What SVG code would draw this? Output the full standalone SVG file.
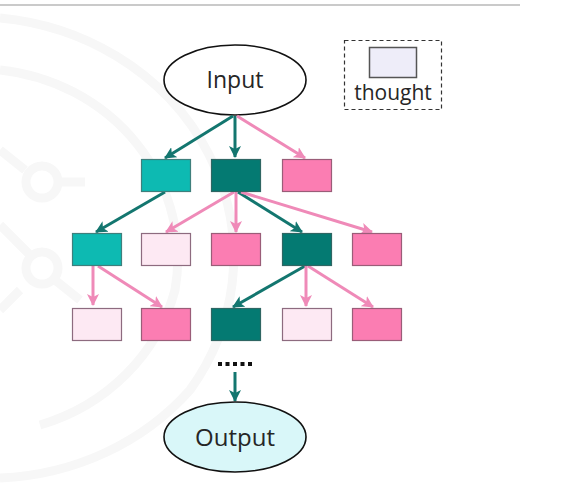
<svg xmlns="http://www.w3.org/2000/svg" width="580" height="500" viewBox="0 0 580 500">
  <defs>
    <marker id="ah-dark" viewBox="0 0 12 12" refX="11" refY="6" markerWidth="12" markerHeight="12" markerUnits="userSpaceOnUse" orient="auto">
      <path d="M0,0 L12,6 L0,12 L3,6 z" fill="#13766f"/>
    </marker>
    <marker id="ah-pink" viewBox="0 0 12 12" refX="11" refY="6" markerWidth="12" markerHeight="12" markerUnits="userSpaceOnUse" orient="auto">
      <path d="M0,0 L12,6 L0,12 L3,6 z" fill="#ef8ab8"/>
    </marker>
    <style>
      .wm { fill: none; stroke: #f7f7f7; stroke-width: 9; }
      .box { stroke-width: 1.2; }
      .lt { fill: #0dbab2; stroke: #3f7f7c; }
      .dt { fill: #047a72; stroke: #2f6663; }
      .pk { fill: #fb7db2; stroke: #9a5d78; }
      .lp { fill: #fde9f3; stroke: #8d6b7f; }
      .cd { stroke: #13766f; stroke-width: 3; fill: none; marker-end: url(#ah-dark); }
      .cp { stroke: #ef8ab8; stroke-width: 3; fill: none; marker-end: url(#ah-pink); }
      .lbl { font-family: "Open Sans", "Noto Sans", "Liberation Sans", sans-serif; fill: #262626; text-anchor: middle; }
    </style>
  </defs>

  <rect x="0" y="0" width="580" height="500" fill="#ffffff"/>

  <!-- faint background watermark -->
  <g id="watermark">
    <path class="wm" d="M0,18 A260,240 0 0 1 190,390 A260,240 0 0 1 0,478"/>
    <path class="wm" d="M0,70 A200,190 0 0 1 175,290 A200,190 0 0 1 40,425"/>
    <circle class="wm" cx="42" cy="182" r="16"/>
    <circle class="wm" cx="42" cy="268" r="16"/>
    <path class="wm" d="M0,150 L25,170 M0,225 L30,255 M58,182 L85,182 M55,280 L80,300 M0,310 L20,290"/>
  </g>

  <line x1="0" y1="5" x2="520" y2="5" stroke="#b9b9b9" stroke-width="1.5"/>

  <g id="legend">
    <rect x="344.5" y="40.5" width="97" height="69" fill="none" stroke="#333" stroke-width="1.2" stroke-dasharray="4,3"/>
    <rect x="369.5" y="47.5" width="47" height="30" fill="#eeedf9" stroke="#555" stroke-width="1.5"/>
    <text class="lbl" x="393" y="100" font-size="21">thought</text>
  </g>

  <g id="input">
    <ellipse cx="235" cy="80" rx="71" ry="35" fill="#ffffff" stroke="#111" stroke-width="1.6"/>
    <text class="lbl" x="235" y="88" font-size="23">Input</text>
  </g>

  <g id="connectors">
    <line class="cd" x1="233" y1="116" x2="165" y2="158"/>
    <line class="cd" x1="235" y1="116" x2="235" y2="157"/>
    <line class="cp" x1="237" y1="116" x2="305" y2="158"/>
    <line class="cd" x1="165" y1="192" x2="96" y2="232"/>
    <line class="cp" x1="234" y1="192" x2="166" y2="232"/>
    <line class="cp" x1="236" y1="192" x2="236" y2="232"/>
    <line class="cd" x1="238" y1="192" x2="302" y2="232"/>
    <line class="cp" x1="241" y1="192" x2="372" y2="232"/>
    <line class="cp" x1="93" y1="266" x2="93" y2="305"/>
    <line class="cp" x1="98" y1="266" x2="162" y2="307"/>
    <line class="cd" x1="305" y1="266" x2="233" y2="307"/>
    <line class="cp" x1="306" y1="266" x2="306" y2="306"/>
    <line class="cp" x1="308" y1="266" x2="373" y2="307"/>
    <line x1="218" y1="364" x2="253" y2="364" stroke="#111" stroke-width="4" stroke-dasharray="4,3.5"/>
    <line class="cd" x1="235" y1="372" x2="235" y2="401"/>
  </g>

  <g id="row1">
    <rect id="n1a" class="box lt" x="141.5" y="159.5" width="49" height="32"/>
    <rect id="n1b" class="box dt" x="211.5" y="159.5" width="49" height="32"/>
    <rect id="n1c" class="box pk" x="282.5" y="159.5" width="49" height="32"/>
  </g>
  <g id="row2">
    <rect id="n2a" class="box lt" x="72.5" y="233.5" width="49" height="32"/>
    <rect id="n2b" class="box lp" x="141.5" y="233.5" width="49" height="32"/>
    <rect id="n2c" class="box pk" x="211.5" y="233.5" width="49" height="32"/>
    <rect id="n2d" class="box dt" x="282.5" y="233.5" width="49" height="32"/>
    <rect id="n2e" class="box pk" x="352.5" y="233.5" width="49" height="32"/>
  </g>
  <g id="row3">
    <rect id="n3a" class="box lp" x="72.5" y="308.5" width="49" height="32"/>
    <rect id="n3b" class="box pk" x="141.5" y="308.5" width="49" height="32"/>
    <rect id="n3c" class="box dt" x="211.5" y="308.5" width="49" height="32"/>
    <rect id="n3d" class="box lp" x="282.5" y="308.5" width="49" height="32"/>
    <rect id="n3e" class="box pk" x="352.5" y="308.5" width="49" height="32"/>
  </g>

  <g id="output">
    <ellipse cx="235" cy="437" rx="71" ry="35" fill="#d9f7f9" stroke="#111" stroke-width="1.6"/>
    <text class="lbl" x="235" y="446" font-size="24">Output</text>
  </g>
</svg>
